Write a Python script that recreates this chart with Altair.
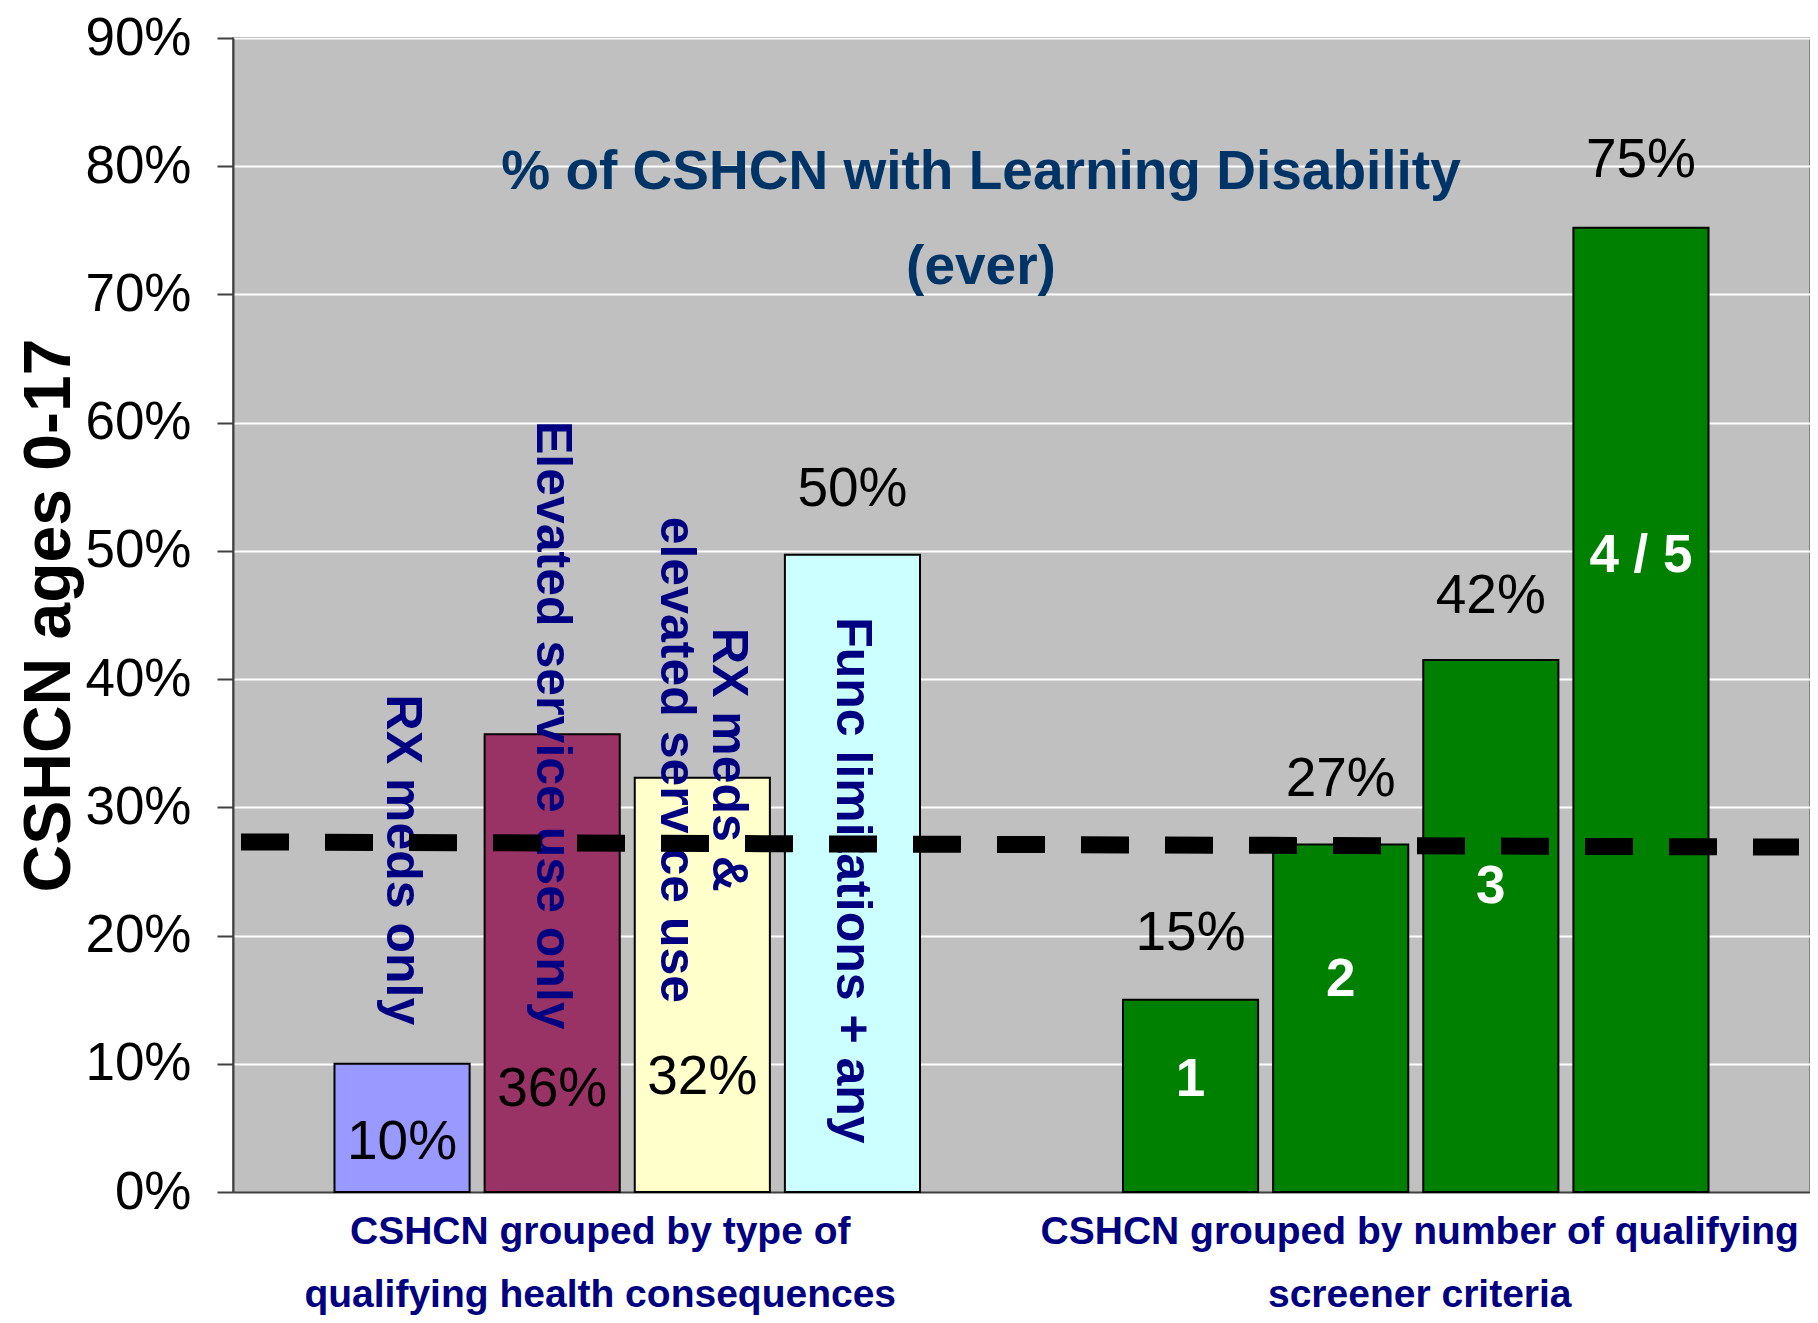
import altair as alt
import pandas as pd

# ---------------- data ----------------
groups = [
    "CSHCN grouped by type of|qualifying health consequences",
    "CSHCN grouped by number of qualifying|screener criteria",
]
bar_group = [0, 0, 0, 0, 1, 1, 1, 1]
bar_slot = [1, 2, 3, 4, 1, 2, 3, 4]
bar_names = [
    "RX meds only",
    "Elevated service use only",
    "RX meds & elevated service use",
    "Func limitations + any",
    "1 criterion",
    "2 criteria",
    "3 criteria",
    "4 / 5 criteria",
]
values = [10.0, 35.7, 32.3, 49.7, 15.0, 27.1, 41.5, 75.2]
value_labels = ["10%", "36%", "32%", "50%", "15%", "27%", "42%", "75%"]
value_label_y = [3.9, 8.0, 9.0, 54.8, 20.2, 32.2, 46.5, 80.5]
inner_labels = [
    "RX meds only",
    "Elevated service use only",
    "RX meds &\nelevated service use",
    "Func limitations + any",
    "1",
    "2",
    "3",
    "4 / 5",
]
inner_label_y = [25.9, 36.4, 33.7, 24.3, 8.7, 16.5, 23.8, 49.6]
avg_line = [27.3, 26.9]
title_lines = ["% of CSHCN with Learning Disability", "(ever)"]
y_ticks = [0, 10, 20, 30, 40, 50, 60, 70, 80, 90]

bar_colors = ["#9999FF", "#993366", "#FFFFCC", "#CCFFFF",
              "#008000", "#008000", "#008000", "#008000"]

SANS = "'Liberation Sans', Arial, sans-serif"

df = pd.DataFrame({
    "grp_idx": bar_group,
    "grp": [groups[g] for g in bar_group],
    "slot": bar_slot,
    "name": bar_names,
    "value": values,
    "vlabel": value_labels,
    "vlabel_y": value_label_y,
    "inner": inner_labels,
    "inner_y": inner_label_y,
})

W, H = 1577, 1154

x_enc = alt.X(
    "grp:N",
    scale=alt.Scale(domain=groups, paddingInner=0, paddingOuter=0),
    axis=alt.Axis(
        title=None,
        labelExpr="split(datum.label, '|')",
        labelFont=SANS,
        labelFontWeight="bold",
        labelFontSize=39,
        labelColor="#000080",
        labelLineHeight=63,
        labelPadding=20,
        labelLimit=2000,
        labelAngle=0,
        labelOffset={"condition": {"test": "indexof(datum.value, 'type of') >= 0", "value": -27},
                     "value": 4},
        ticks=False,
        domainColor="#404040",
        domainWidth=2,
    ),
)
xo_enc = alt.XOffset("slot:O", scale=alt.Scale(paddingInner=0.1, paddingOuter=0.676))

y_scale = alt.Scale(domain=[0, 90], nice=False)
y_axis = alt.Axis(
    values=y_ticks,
    labelExpr="datum.value + '%'",
    labelFont=SANS,
    labelFontSize=53,
    labelColor="black",
    labelPadding=26,
    tickSize=16,
    tickWidth=2,
    tickColor="#404040",
    domainColor="#404040",
    domainWidth=2,
    grid=True,
    gridColor="white",
    gridWidth=2,
    title="CSHCN ages 0-17",
    titleFont=SANS,
    titleFontSize=66,
    titleFontWeight="bold",
    titleColor="black",
    titleX=-184,
    titleY=H / 2,
    titleAngle=270,
    titleAlign="center",
    titleBaseline="middle",
)


def yenc(field):
    return alt.Y(field, scale=y_scale, axis=y_axis, title="CSHCN ages 0-17")


base = alt.Chart(df)

bars = base.mark_bar(stroke="black", strokeWidth=2).encode(
    x=x_enc,
    xOffset=xo_enc,
    y=yenc("value:Q"),
    color=alt.Color("name:N", scale=alt.Scale(domain=bar_names, range=bar_colors), legend=None),
)

value_text = base.mark_text(
    font=SANS, fontSize=55, color="black", align="center", baseline="middle"
).encode(
    x=x_enc,
    xOffset=xo_enc,
    y=yenc("vlabel_y:Q"),
    text="vlabel:N",
)

rot_single = base.transform_filter(
    (alt.datum.grp_idx == 0) & (alt.expr.indexof(alt.datum.inner, "\n") < 0)
).mark_text(
    angle=90, font=SANS, fontWeight="bold", fontSize=50, color="#000080",
    align="center", baseline="middle",
).encode(
    x=x_enc,
    xOffset=xo_enc,
    y=yenc("inner_y:Q"),
    text="inner:N",
)

rot_double = base.transform_filter(
    (alt.datum.grp_idx == 0) & (alt.expr.indexof(alt.datum.inner, "\n") >= 0)
).mark_text(
    angle=90, font=SANS, fontWeight="bold", fontSize=50, color="#000080",
    align="center", baseline="middle", lineBreak="\n", lineHeight=52, dy=-26,
).encode(
    x=x_enc,
    xOffset=xo_enc,
    y=yenc("inner_y:Q"),
    text="inner:N",
)

num_text = base.transform_filter(alt.datum.grp_idx == 1).mark_text(
    font=SANS, fontWeight="bold", fontSize=53, color="white",
    align="center", baseline="middle",
).encode(
    x=x_enc,
    xOffset=xo_enc,
    y=yenc("inner_y:Q"),
    text="inner:N",
)

rule = alt.Chart(pd.DataFrame({"y1": [avg_line[0]], "y2": [avg_line[1]]})).mark_rule(
    color="black", strokeWidth=17, strokeDash=[48, 36]
).encode(
    x=alt.value(8),
    x2=alt.value(1566),
    y=yenc("y1:Q"),
    y2="y2:Q",
)

title = alt.Chart(pd.DataFrame({"t": ["\n".join(title_lines)]})).mark_text(
    font=SANS, fontWeight="bold", fontSize=55, color="#003366",
    align="center", baseline="middle", lineBreak="\n", lineHeight=95,
).encode(
    x=alt.value(748),
    y=alt.value(134),
    text="t:N",
)

chart = alt.layer(bars, value_text, rot_single, rot_double, num_text, rule, title).properties(
    width=W,
    height=H,
    autosize=alt.AutoSizeParams(type="none"),
    padding={"left": 225, "top": 30, "right": 0, "bottom": 123},
    background="white",
).configure_view(
    fill="#C0C0C0", stroke="#808080", strokeWidth=2
)

chart.save("out.html", embed_options={"renderer": "svg", "actions": False})
